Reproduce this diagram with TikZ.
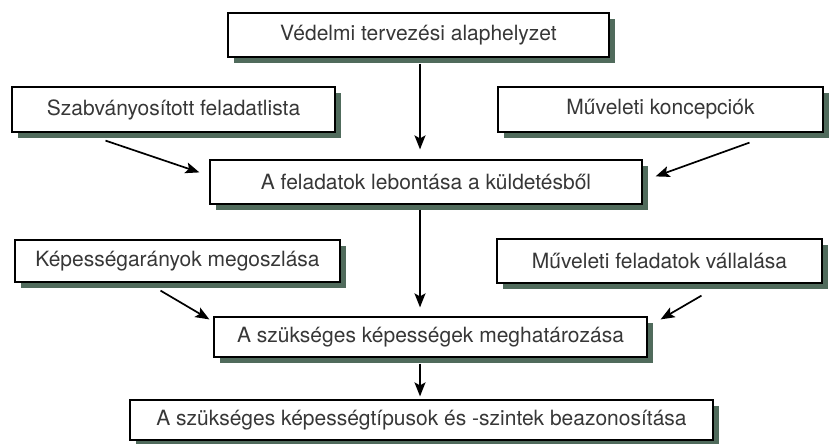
\documentclass[tikz,border=0pt]{standalone}
\usepackage{fontspec}
\setmainfont{TeX Gyre Heros}
\usetikzlibrary{arrows.meta,shadows}
\definecolor{shadowgreen}{RGB}{80,107,92}
\definecolor{textgray}{RGB}{55,55,55}

\begin{document}
\begin{tikzpicture}[x=1pt,y=-1pt,
  box/.style={draw=black, line width=1.2pt, fill=white, text=textgray, inner sep=0pt,
    font=\fontsize{21}{25}\selectfont,
    drop shadow={shadow xshift=6pt, shadow yshift=-6pt, fill=shadowgreen, opacity=1}},
  arr/.style={-{Stealth[length=14pt,width=11pt,inset=3pt]}, line width=1.7pt}]
\useasboundingbox (0,0) rectangle (830,444);
% boxes
\node[box, minimum width=381pt, minimum height=44pt] (b1) at (418.5,35) {Védelmi tervezési alaphelyzet};
\node[box, minimum width=323pt, minimum height=45pt] (b2) at (173.5,109.5) {Szabványosított feladatlista};
\node[box, minimum width=325pt, minimum height=45pt] (b3) at (660.5,109.5) {Műveleti koncepciók};
\node[box, minimum width=432pt, minimum height=44pt] (b4) at (426,182) {A feladatok lebontása a küldetésből};
\node[box, minimum width=325pt, minimum height=42pt] (b5) at (177.5,261) {Képességarányok megoszlása};
\node[box, minimum width=325pt, minimum height=44pt] (b6) at (659.5,261) {Műveleti feladatok vállalása};
\node[box, minimum width=433pt, minimum height=40pt] (b7) at (430.5,337) {A szükséges képességek meghatározása};
\node[box, minimum width=583pt, minimum height=40pt] (b8) at (421.5,420) {A szükséges képességtípusok és -szintek beazonosítása};
% arrows
\coordinate (spine) at (420,0);
\draw[arr, shorten <=6pt, shorten >=10pt] (b1.south -| spine) -- (b4.north -| spine);
\draw[arr, shorten <=5pt, shorten >=9pt] (b4.south -| spine) -- (b7.north -| spine);
\draw[arr, shorten <=6pt, shorten >=3pt] (b7.south -| spine) -- (b8.north -| spine);
\draw[arr] ([shift={(-68pt,-8pt)}]b2.south) -- ([shift={(-10pt,-13pt)}]b4.north west);
\draw[arr] ([shift={(89pt,-10pt)}]b3.south) -- ([shift={(13pt,-17pt)}]b4.north east);
\draw[arr] ([shift={(-17pt,-8pt)}]b5.south) -- ([shift={(-4pt,-3pt)}]b7.north west);
\draw[arr] ([shift={(42pt,-12pt)}]b6.south) -- ([shift={(13pt,-3pt)}]b7.north east);
\end{tikzpicture}
\end{document}
